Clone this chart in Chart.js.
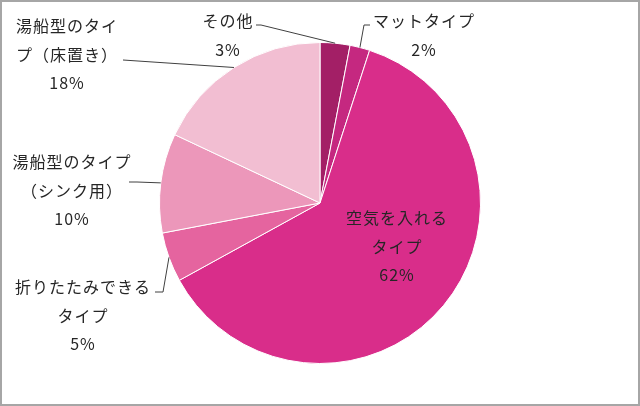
<!DOCTYPE html>
<html>
<head>
<meta charset="utf-8">
<script src="https://cdn.jsdelivr.net/npm/chart.js@4/dist/chart.umd.min.js"></script>
<style>
  html, body { margin: 0; padding: 0; background: #fff; }
  #wrap { width: 640px; height: 406px; position: relative; }
</style>
</head>
<body>
<div id="wrap"><canvas id="pie" width="640" height="406"></canvas></div>
<script>
// slices clockwise from 12 o'clock
const categories = ['その他', 'マットタイプ', '空気を入れる\nタイプ', '折りたたみできる\nタイプ', '湯船型のタイプ\n（シンク用）', '湯船型のタイ\nプ（床置き）'];
const shares = [3, 2, 62, 5, 10, 18];
const sliceColors = ['#A31F66', '#C52880', '#D92D8A', '#E5649F', '#EC97BA', '#F2BED2'];

// where each label sits (centre x, first line y) and the bend of its leader line
const labelSpots = [
    { x: 228, y: 21, leader: [[256, 25], [261, 25]] },
    { x: 424, y: 21, leader: [[370, 25], [364, 25]] },
    { x: 397, y: 218, leader: null },
    { x: 83, y: 287, leader: [[155, 292], [163, 292]] },
    { x: 72, y: 162, leader: [[129, 182], [137, 182]] },
    { x: 67, y: 26, leader: [[123, 60]] },
];

const pieLabels = {
    id: 'pieLabels',
    afterDatasetsDraw(chart) {
        const ctx = chart.ctx;
        const arcs = chart.getDatasetMeta(0).data;
        ctx.save();
        ctx.font = '16px "Noto Sans CJK JP", "Noto Sans", sans-serif';
        ctx.letterSpacing = '1px';
        ctx.fillStyle = '#262626';
        ctx.textAlign = 'center';
        ctx.textBaseline = 'middle';
        arcs.forEach((arc, i) => {
            const spot = labelSpots[i];
            const lines = categories[i].split('\n').concat([shares[i] + '%']);
            lines.forEach((txt, k) => ctx.fillText(txt, spot.x, spot.y + k * 28.5));

            if (spot.leader) {
                const p = arc.getProps(['x', 'y', 'startAngle', 'endAngle', 'outerRadius'], true);
                const mid = (p.startAngle + p.endAngle) / 2;
                const ex = p.x + Math.cos(mid) * p.outerRadius;
                const ey = p.y + Math.sin(mid) * p.outerRadius;
                ctx.beginPath();
                ctx.strokeStyle = '#404040';
                ctx.lineWidth = 1;
                spot.leader.forEach((pt, k) => k ? ctx.lineTo(pt[0], pt[1]) : ctx.moveTo(pt[0], pt[1]));
                ctx.lineTo(ex, ey);
                ctx.stroke();
            }
        });
        // frame round the whole picture
        ctx.strokeStyle = '#A6A6A6';
        ctx.lineWidth = 2;
        ctx.strokeRect(1, 1, chart.width - 2, chart.height - 2);
        ctx.restore();
    }
};

new Chart(document.getElementById('pie'), {
    type: 'pie',
    data: {
        labels: categories,
        datasets: [{
            data: shares,
            backgroundColor: sliceColors,
            borderColor: '#ffffff',
            borderWidth: 1,
        }],
    },
    options: {
        responsive: false,
        animation: false,
        layout: { padding: { top: 42, bottom: 42 } },
        plugins: {
            legend: { display: false },
            tooltip: { enabled: false },
        },
    },
    plugins: [pieLabels],
});
</script>
</body>
</html>
